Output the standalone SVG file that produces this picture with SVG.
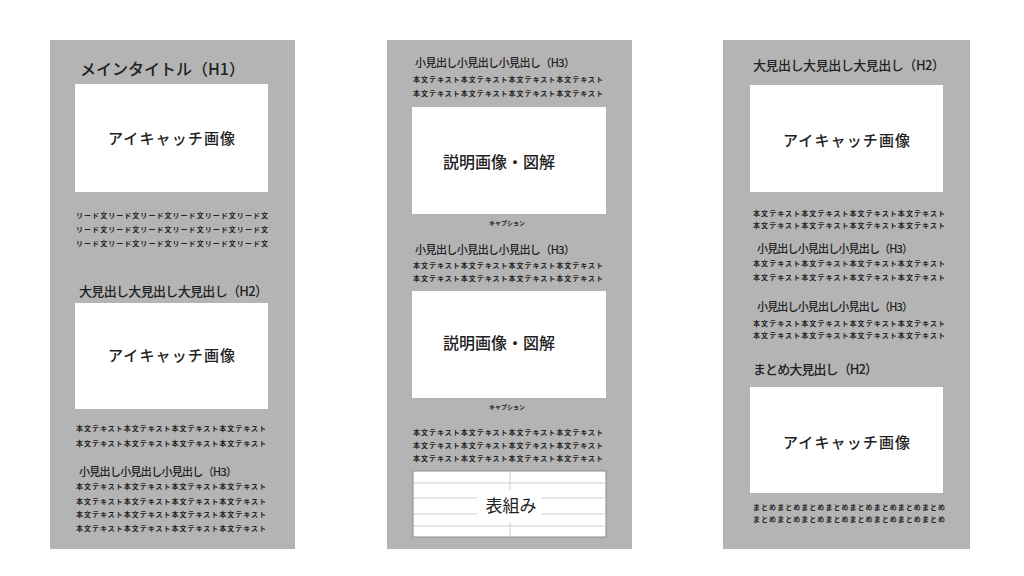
<svg xmlns="http://www.w3.org/2000/svg" width="1024" height="576" viewBox="0 0 1024 576">
<style>
text{font-family:"Noto Sans CJK JP","Noto Sans",sans-serif;fill:#222}
.page{fill:#b4b4b4}
.img{fill:#ffffff}
.h1{font-size:16px;font-weight:500}
.h2{font-size:13px;font-weight:500}
.h3{font-size:11px;font-weight:500}
.lbl{font-size:15px;font-weight:500}
.body{font-size:7px;font-weight:700}
.cap{font-size:6px;font-weight:700}
.tbl{font-size:17px;font-weight:400}
.tline{stroke:#cfcfcf;stroke-width:1}
</style>
<rect width="1024" height="576" fill="#ffffff"/>

<g id="page1">
<rect class="page" x="50" y="40" width="245" height="509"/>
<text class="h1" x="80" y="75" textLength="165" lengthAdjust="spacing">メインタイトル（H1）</text>
<g id="p1-eyecatch1"><rect class="img" x="75" y="84" width="193" height="108"/>
<text class="lbl" x="108" y="144" textLength="127" lengthAdjust="spacing">アイキャッチ画像</text></g>
<g id="p1-lead">
<text class="body" x="76" y="218" textLength="192" lengthAdjust="spacing">リード文リード文リード文リード文リード文リード文</text>
<text class="body" x="76" y="232" textLength="192" lengthAdjust="spacing">リード文リード文リード文リード文リード文リード文</text>
<text class="body" x="76" y="246" textLength="192" lengthAdjust="spacing">リード文リード文リード文リード文リード文リード文</text>
</g>
<text class="h2" x="79" y="296" textLength="189" lengthAdjust="spacing">大見出し大見出し大見出し（H2）</text>
<g id="p1-eyecatch2"><rect class="img" x="75" y="303" width="193" height="106"/>
<text class="lbl" x="108" y="361" textLength="127" lengthAdjust="spacing">アイキャッチ画像</text></g>
<g id="p1-body1">
<text class="body" x="76" y="431" textLength="190" lengthAdjust="spacing">本文テキスト本文テキスト本文テキスト本文テキスト</text>
<text class="body" x="76" y="446" textLength="190" lengthAdjust="spacing">本文テキスト本文テキスト本文テキスト本文テキスト</text>
</g>
<text class="h3" x="79" y="476" textLength="158" lengthAdjust="spacing">小見出し小見出し小見出し（H3）</text>
<g id="p1-body2">
<text class="body" x="76" y="489" textLength="190" lengthAdjust="spacing">本文テキスト本文テキスト本文テキスト本文テキスト</text>
<text class="body" x="76" y="504" textLength="190" lengthAdjust="spacing">本文テキスト本文テキスト本文テキスト本文テキスト</text>
<text class="body" x="76" y="517" textLength="190" lengthAdjust="spacing">本文テキスト本文テキスト本文テキスト本文テキスト</text>
<text class="body" x="76" y="531" textLength="190" lengthAdjust="spacing">本文テキスト本文テキスト本文テキスト本文テキスト</text>
</g>
</g>

<g id="page2">
<rect class="page" x="387" y="40" width="245" height="509"/>
<text class="h3" x="415" y="67" textLength="160" lengthAdjust="spacing">小見出し小見出し小見出し（H3）</text>
<g id="p2-body1">
<text class="body" x="413" y="82" textLength="190" lengthAdjust="spacing">本文テキスト本文テキスト本文テキスト本文テキスト</text>
<text class="body" x="413" y="96" textLength="190" lengthAdjust="spacing">本文テキスト本文テキスト本文テキスト本文テキスト</text>
</g>
<g id="p2-figure1"><rect class="img" x="412" y="107" width="194" height="107"/>
<text class="lbl" x="443" y="168" textLength="112" lengthAdjust="spacing" style="font-size:16px">説明画像・図解</text></g>
<text class="cap" x="507" y="225" text-anchor="middle">キャプション</text>
<text class="h3" x="415" y="254" textLength="160" lengthAdjust="spacing">小見出し小見出し小見出し（H3）</text>
<g id="p2-body2">
<text class="body" x="413" y="268" textLength="190" lengthAdjust="spacing">本文テキスト本文テキスト本文テキスト本文テキスト</text>
<text class="body" x="413" y="281" textLength="190" lengthAdjust="spacing">本文テキスト本文テキスト本文テキスト本文テキスト</text>
</g>
<g id="p2-figure2"><rect class="img" x="412" y="291" width="194" height="107"/>
<text class="lbl" x="443" y="349" textLength="112" lengthAdjust="spacing" style="font-size:16px">説明画像・図解</text></g>
<text class="cap" x="507" y="409" text-anchor="middle">キャプション</text>
<g id="p2-body3">
<text class="body" x="413" y="435" textLength="190" lengthAdjust="spacing">本文テキスト本文テキスト本文テキスト本文テキスト</text>
<text class="body" x="413" y="448" textLength="190" lengthAdjust="spacing">本文テキスト本文テキスト本文テキスト本文テキスト</text>
<text class="body" x="413" y="461" textLength="190" lengthAdjust="spacing">本文テキスト本文テキスト本文テキスト本文テキスト</text>
</g>
<g id="p2-table">
<rect x="413" y="471" width="193" height="66" fill="#ffffff" stroke="#8a8a8a" stroke-width="1"/>
<line class="tline" x1="414" y1="483" x2="605" y2="483"/>
<line class="tline" x1="414" y1="498" x2="605" y2="498"/>
<line class="tline" x1="414" y1="514" x2="605" y2="514"/>
<line class="tline" x1="414" y1="526" x2="605" y2="526"/>
<line class="tline" x1="510" y1="472" x2="510" y2="536"/>
<rect x="477" y="490" width="65" height="32" fill="#ffffff"/>
<text class="tbl" x="511" y="512" text-anchor="middle">表組み</text>
</g>
</g>

<g id="page3">
<rect class="page" x="723" y="40" width="247" height="509"/>
<text class="h2" x="753" y="70" textLength="192" lengthAdjust="spacing">大見出し大見出し大見出し（H2）</text>
<g id="p3-eyecatch1"><rect class="img" x="750" y="85" width="193" height="107"/>
<text class="lbl" x="783" y="146" textLength="127" lengthAdjust="spacing">アイキャッチ画像</text></g>
<g id="p3-body1">
<text class="body" x="753" y="216" textLength="192" lengthAdjust="spacing">本文テキスト本文テキスト本文テキスト本文テキスト</text>
<text class="body" x="753" y="228" textLength="192" lengthAdjust="spacing">本文テキスト本文テキスト本文テキスト本文テキスト</text>
</g>
<text class="h3" x="757" y="253" textLength="156" lengthAdjust="spacing">小見出し小見出し小見出し（H3）</text>
<g id="p3-body2">
<text class="body" x="753" y="266" textLength="192" lengthAdjust="spacing">本文テキスト本文テキスト本文テキスト本文テキスト</text>
<text class="body" x="753" y="280" textLength="192" lengthAdjust="spacing">本文テキスト本文テキスト本文テキスト本文テキスト</text>
</g>
<text class="h3" x="757" y="311" textLength="156" lengthAdjust="spacing">小見出し小見出し小見出し（H3）</text>
<g id="p3-body3">
<text class="body" x="753" y="326" textLength="192" lengthAdjust="spacing">本文テキスト本文テキスト本文テキスト本文テキスト</text>
<text class="body" x="753" y="338" textLength="192" lengthAdjust="spacing">本文テキスト本文テキスト本文テキスト本文テキスト</text>
</g>
<text class="h2" x="753" y="374" textLength="125" lengthAdjust="spacing">まとめ大見出し（H2）</text>
<g id="p3-eyecatch2"><rect class="img" x="750" y="387" width="193" height="106"/>
<text class="lbl" x="783" y="448" textLength="127" lengthAdjust="spacing">アイキャッチ画像</text></g>
<g id="p3-summary">
<text class="body" x="753" y="510" textLength="192" lengthAdjust="spacing">まとめまとめまとめまとめまとめまとめまとめまとめ</text>
<text class="body" x="753" y="522" textLength="192" lengthAdjust="spacing">まとめまとめまとめまとめまとめまとめまとめまとめ</text>
</g>
</g>
<g id="connectors"/>
</svg>
